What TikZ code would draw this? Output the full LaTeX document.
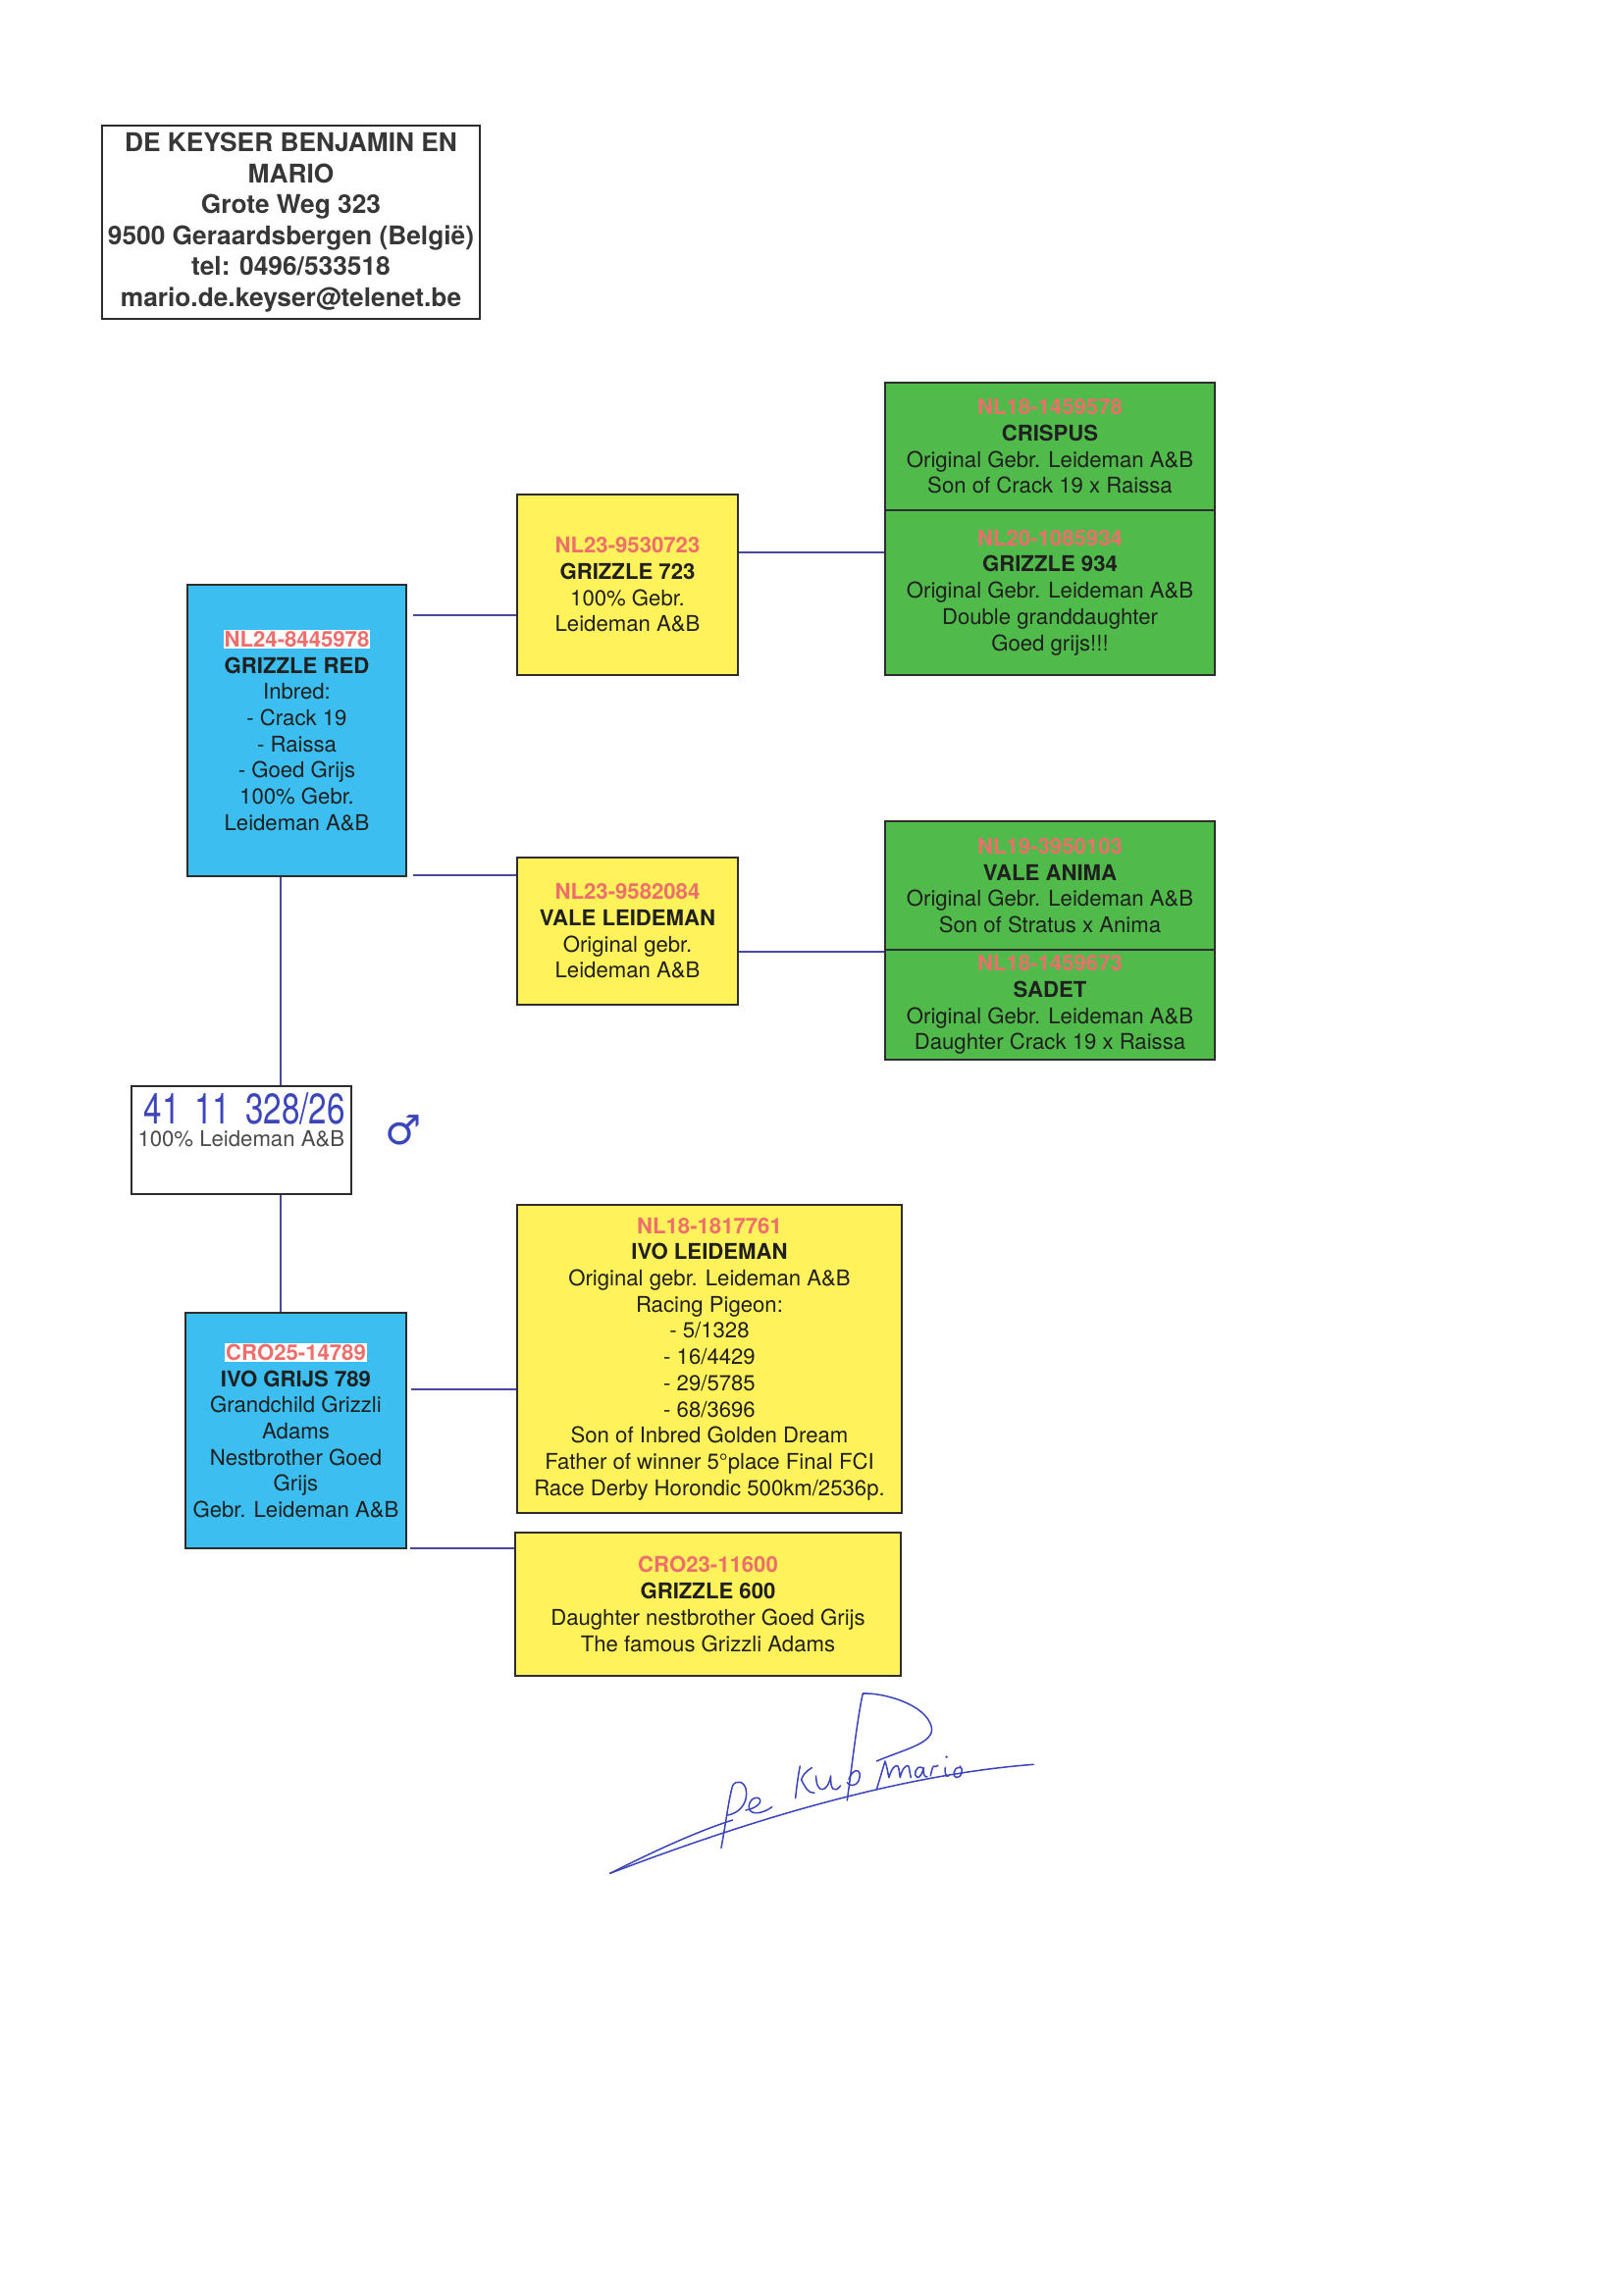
\documentclass[tikz,border=0pt]{standalone}
\usepackage{fontspec}
\setmainfont{TeX Gyre Heros}
\newfontfamily\symfont{DejaVu Sans}
\usepackage{xcolor}
\definecolor{bfill}{RGB}{60,190,240}
\definecolor{yfill}{RGB}{255,242,90}
\definecolor{gfill}{RGB}{80,186,74}
\definecolor{idred}{RGB}{238,110,108}
\definecolor{txt}{RGB}{32,32,32}
\definecolor{hdr}{RGB}{55,55,55}
\definecolor{conncol}{RGB}{72,72,160}
\definecolor{bordercol}{RGB}{45,45,45}
\definecolor{pen}{RGB}{60,70,185}
\definecolor{greytxt}{RGB}{75,75,75}
\def\PX{0.12696mm}
\newcommand\idtxt[1]{\textbf{\textcolor{idred}{#1}}}
\newcommand\idhl[1]{{\setlength{\fboxsep}{0.4pt}\colorbox{white}{\textbf{\textcolor{idred}{#1}}}}}
\begin{document}
\begin{tikzpicture}[x=0.12696mm,y=-0.12696mm,
  pbox/.style={draw=bordercol, line width=0.7pt, rectangle, inner sep=0pt, align=center,
    text=txt, font=\fontsize{8}{9.65}\selectfont},
  conn/.style={draw=conncol, line width=0.6pt},
  sig/.style={draw=pen, line width=0.55pt, line cap=round, line join=round}]
\useasboundingbox[fill=white] (0,0) rectangle (1654,2337);

% header
\node[pbox, text=hdr, font=\fontsize{9.5}{11.4}\selectfont\bfseries,
  minimum width=385*\PX, minimum height=197*\PX] (header) at (296.5,226.5)
  {DE KEYSER BENJAMIN EN\\MARIO\\Grote Weg 323\\9500 Geraardsbergen (België)\\tel: 0496/533518\\mario.de.keyser@telenet.be};

% grandparents (green)
\node[pbox, fill=gfill, minimum width=336*\PX, minimum height=130*\PX] (crispus) at (1070,455)
  {\idtxt{NL18-1459578}\\\textbf{CRISPUS}\\Original Gebr. Leideman A\&B\\Son of Crack 19 x Raissa};
\node[pbox, fill=gfill, minimum width=336*\PX, minimum height=168*\PX] (g934) at (1070,604)
  {\idtxt{NL20-1085934}\\\textbf{GRIZZLE 934}\\Original Gebr. Leideman A\&B\\Double granddaughter\\Goed grijs!!!};
\node[pbox, fill=gfill, minimum width=336*\PX, minimum height=131*\PX] (anima) at (1070,902.5)
  {\idtxt{NL19-3950103}\\\textbf{VALE ANIMA}\\Original Gebr. Leideman A\&B\\Son of Stratus x Anima};
\node[pbox, fill=gfill, minimum width=336*\PX, minimum height=112*\PX] (sadet) at (1070,1024)
  {\idtxt{NL18-1459673}\\\textbf{SADET}\\Original Gebr. Leideman A\&B\\Daughter Crack 19 x Raissa};

% parents (yellow)
\node[pbox, fill=yfill, minimum width=225*\PX, minimum height=184*\PX] (g723) at (639.5,596)
  {\idtxt{NL23-9530723}\\\textbf{GRIZZLE 723}\\100\% Gebr.\\Leideman A\&B};
\node[pbox, fill=yfill, minimum width=225*\PX, minimum height=150*\PX] (vale) at (639.5,949)
  {\idtxt{NL23-9582084}\\\textbf{VALE LEIDEMAN}\\Original gebr.\\Leideman A\&B};
\node[pbox, fill=yfill, minimum width=392*\PX, minimum height=314*\PX] (ivoleid) at (723,1385)
  {\idtxt{NL18-1817761}\\\textbf{IVO LEIDEMAN}\\Original gebr. Leideman A\&B\\Racing Pigeon:\\- 5/1328\\- 16/4429\\- 29/5785\\- 68/3696\\Son of Inbred Golden Dream\\Father of winner 5°place Final FCI\\Race Derby Horondic 500km/2536p.};
\node[pbox, fill=yfill, minimum width=393*\PX, minimum height=146*\PX] (g600) at (721.5,1635)
  {\idtxt{CRO23-11600}\\\textbf{GRIZZLE 600}\\Daughter nestbrother Goed Grijs\\The famous Grizzli Adams};

% blue parents
\node[pbox, fill=bfill, minimum width=223*\PX, minimum height=297*\PX] (grizred) at (302.5,744.5)
  {\idhl{NL24-8445978}\\\textbf{GRIZZLE RED}\\Inbred:\\- Crack 19\\- Raissa\\- Goed Grijs\\100\% Gebr.\\Leideman A\&B};
\node[pbox, fill=bfill, minimum width=225*\PX, minimum height=240*\PX] (ivogrijs) at (301.5,1458)
  {\idhl{CRO25-14789}\\\textbf{IVO GRIJS 789}\\Grandchild Grizzli\\Adams\\Nestbrother Goed\\Grijs\\Gebr. Leideman A\&B};

% ring box
\node[pbox, fill=white, minimum width=224*\PX, minimum height=110*\PX] (ring) at (246,1162) {};
\node[text=pen, inner sep=0pt, font=\fontsize{15}{15}\selectfont, anchor=west] (ringno) at (146,1130)
  {\scalebox{0.8}[1.05]{41\hspace{0.45em}11\hspace{0.45em}328/26}};
\node[text=greytxt, inner sep=0pt, font=\fontsize{8}{9.65}\selectfont, anchor=west] (ringtxt) at (140,1161)
  {100\% Leideman A\&B};
\node[text=pen, inner sep=0pt, font=\symfont\fontsize{15}{15}\selectfont] (male) at (411,1152) {♂};

% connectors
\draw[conn] (grizred.east |- 0,627) ++(6,0) -- (g723.west |- 0,627);
\draw[conn] (g723.east |- 0,563) -- (g934.west |- 0,563);
\draw[conn] (grizred.east |- 0,892) ++(6,0) -- (vale.west |- 0,892);
\draw[conn] (vale.east |- 0,970) -- (anima.west |- 0,970);
\draw[conn] (grizred.south -| 286,0) -- (ring.north -| 286,0);
\draw[conn] (ring.south -| 286,0) -- (ivogrijs.north -| 286,0);
\draw[conn] (ivogrijs.east |- 0,1416) ++(4,0) -- (ivoleid.west |- 0,1416);
\draw[conn] (ivogrijs.east |- 0,1578) ++(3,0) -- (g600.west |- 0,1578);

% signature
\begin{scope}[shift={(600,1700)}, x=0.04232mm, y=-0.04232mm]
\draw[sig] (65,628) .. controls (400,500) and (900,330) .. (1360,295);
\draw[sig] (65,628) .. controls (200,560) and (330,500) .. (440,465);
\draw[sig] (405,550) .. controls (420,470) and (428,400) .. (440,360) .. controls (450,340) and (480,345) .. (482,380) .. controls (484,420) and (455,445) .. (425,450);
\draw[sig] (480,435) .. controls (510,430) and (535,410) .. (520,398) .. controls (500,390) and (480,420) .. (495,438) .. controls (510,450) and (540,440) .. (560,425);
\draw[sig] (632,398) .. controls (636,360) and (640,330) .. (646,300);
\draw[sig] (682,305) .. controls (665,315) and (652,330) .. (650,342) .. controls (660,360) and (670,385) .. (690,382);
\draw[sig] (695,330) .. controls (695,385) and (730,385) .. (740,330) .. controls (738,370) and (750,385) .. (770,360);
\draw[sig] (790,405) .. controls (805,300) and (820,160) .. (838,78) .. controls (900,75) and (1030,110) .. (1048,180) .. controls (1060,230) and (960,250) .. (880,285);
\draw[sig] (795,340) .. controls (810,300) and (840,310) .. (825,345) .. controls (815,365) and (795,360) .. (790,350);
\draw[sig] (880,372) -- (906,285) .. controls (912,300) and (914,320) .. (918,335) .. controls (925,310) and (935,295) .. (945,300) .. controls (950,310) and (950,325) .. (952,335) .. controls (958,310) and (968,295) .. (978,300) .. controls (982,315) and (982,325) .. (985,335);
\draw[sig] (1020,305) .. controls (1000,295) and (990,330) .. (1005,335) .. controls (1015,335) and (1022,315) .. (1024,305) .. controls (1022,320) and (1025,335) .. (1035,333);
\draw[sig] (1045,330) .. controls (1048,315) and (1050,305) .. (1055,300) .. controls (1060,305) and (1062,300) .. (1068,298);
\draw[sig] (1090,305) .. controls (1088,320) and (1092,335) .. (1100,330);
\fill[pen] (1094,272) circle (4);
\draw[sig] (1135,305) .. controls (1115,300) and (1110,335) .. (1125,335) .. controls (1140,335) and (1148,310) .. (1135,300);
\end{scope}
\end{tikzpicture}
\end{document}
